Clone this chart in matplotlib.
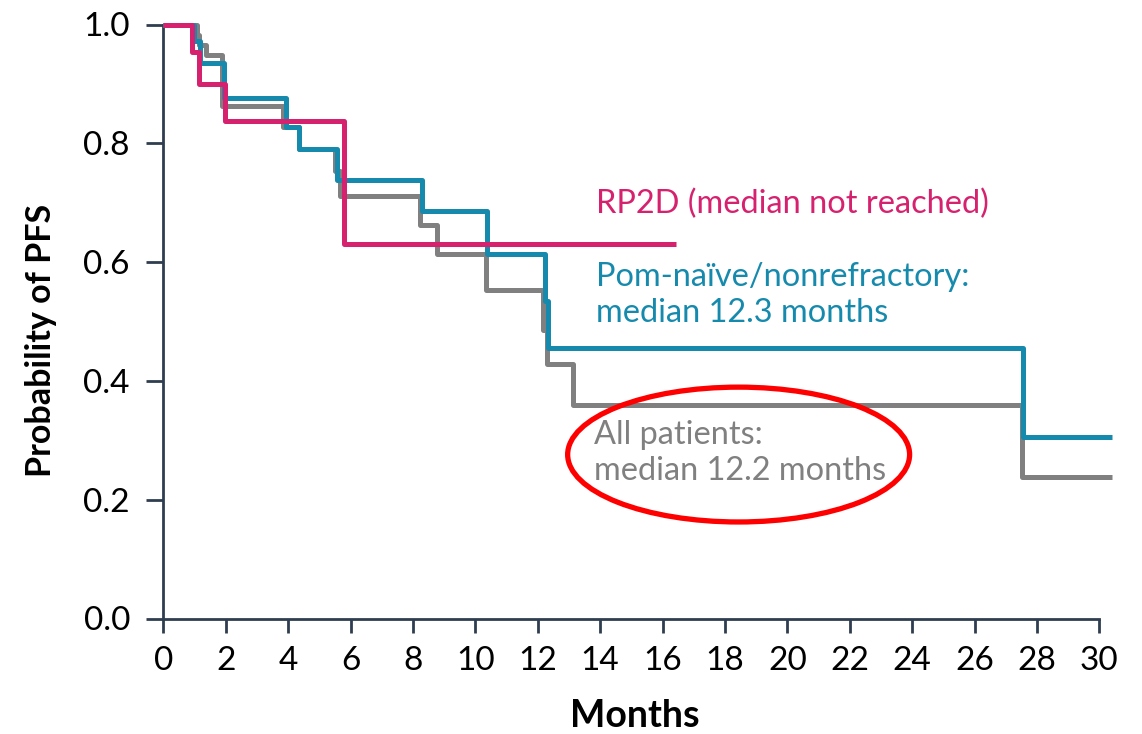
import matplotlib
matplotlib.use("Agg")
import matplotlib.pyplot as plt
from matplotlib.patches import Ellipse

# Kaplan-Meier step curves (time in months, survival probability after each step)
all_t = [0, 1.07, 1.14, 1.37, 1.87, 3.85, 4.35, 5.50, 5.67, 8.23, 8.77, 10.35, 12.16, 12.31, 13.13, 27.53, 30.42]
all_s = [1.0, 0.983, 0.966, 0.949, 0.862, 0.827, 0.791, 0.753, 0.711, 0.663, 0.613, 0.553, 0.486, 0.428, 0.359, 0.239, 0.239]

pom_t = [0, 0.99, 1.18, 1.95, 3.93, 4.35, 5.56, 8.28, 10.37, 12.24, 12.33, 27.56, 30.42]
pom_s = [1.0, 0.972, 0.935, 0.877, 0.827, 0.791, 0.739, 0.686, 0.613, 0.534, 0.456, 0.306, 0.306]

rp2d_t = [0, 0.91, 1.14, 1.98, 5.79, 16.43]
rp2d_s = [1.0, 0.954, 0.899, 0.838, 0.630, 0.630]

x_ticks = list(range(0, 31, 2))
y_ticks = [0.0, 0.2, 0.4, 0.6, 0.8, 1.0]

GRAY = "#808080"
TEAL = "#168aad"
PINK = "#d6226e"
AXIS = "#2e3d4f"
FONT = "Lato"

plt.rcParams["font.family"] = [FONT, "DejaVu Sans"]

fig = plt.figure(figsize=(11.42, 7.34), dpi=100)
ax = fig.add_axes([163.3 / 1142, 1 - 618.5 / 734, (30.5 * 31.2) / 1142, 594 / 734])

lw = 3.6
ax.step(all_t, all_s, where="post", color=GRAY, lw=lw, clip_on=False, zorder=3,
        solid_joinstyle="round", solid_capstyle="butt")
ax.step(pom_t, pom_s, where="post", color=TEAL, lw=lw, clip_on=False, zorder=4,
        solid_joinstyle="round", solid_capstyle="butt")
ax.step(rp2d_t, rp2d_s, where="post", color=PINK, lw=lw, clip_on=False, zorder=5,
        solid_joinstyle="round", solid_capstyle="butt")

ax.set_xlim(0, 30.5)
ax.set_ylim(0, 1.0)
ax.set_xticks(x_ticks)
ax.set_yticks(y_ticks)
ax.set_yticklabels([f"{v:.1f}" for v in y_ticks])

for side in ("top", "right"):
    ax.spines[side].set_visible(False)
for side in ("left", "bottom"):
    ax.spines[side].set_color(AXIS)
    ax.spines[side].set_linewidth(2.0)
ax.spines["bottom"].set_bounds(0, 30)
ax.spines["left"].set_bounds(0, 1.0)

ax.tick_params(axis="x", direction="out", length=10, width=2.0, color=AXIS,
               pad=10, labelsize=24, labelcolor="black")
ax.tick_params(axis="y", direction="out", length=12, width=2.0, color=AXIS,
               pad=12, labelsize=24, labelcolor="black")

ax.set_xlabel("Months", fontsize=27, fontweight="bold")
ax.set_ylabel("Probability of PFS", fontsize=24.5, fontweight="bold")
ax.xaxis.set_label_coords(0.496, -0.135)
ax.yaxis.set_label_coords(-0.112, 0.468)

TXT = 23.4
ax.text(13.87, 0.683, "RP2D (median not reached)", color=PINK, fontsize=TXT, va="baseline")
ax.text(13.87, 0.559, "Pom-naïve/nonrefractory:", color=TEAL, fontsize=TXT, va="baseline")
ax.text(13.87, 0.500, "median 12.3 months", color=TEAL, fontsize=TXT, va="baseline")
ax.text(13.79, 0.293, "All patients:", color=GRAY, fontsize=TXT, va="baseline")
ax.text(13.79, 0.234, "median 12.2 months", color=GRAY, fontsize=TXT, va="baseline")

ax.add_patch(Ellipse((18.44, 0.276), 10.96, 0.227, fill=False, edgecolor="#ff0000",
                     lw=3.8, zorder=6))

fig.savefig("out.png", dpi=100)
